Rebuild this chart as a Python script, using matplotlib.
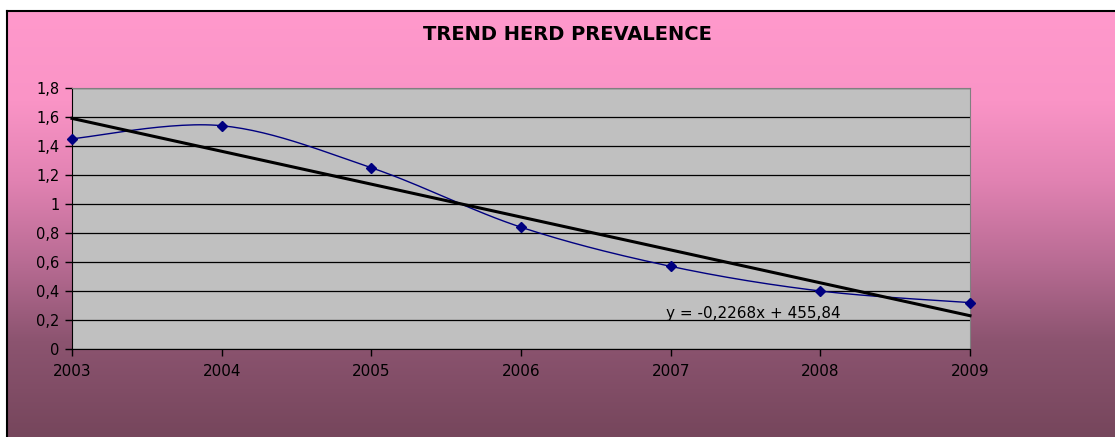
import numpy as np
import matplotlib
matplotlib.use("Agg")
import matplotlib.pyplot as plt

plt.rcParams['font.family'] = ['DejaVu Sans']

years = [2003, 2004, 2005, 2006, 2007, 2008, 2009]
prevalence = [1.45, 1.54, 1.25, 0.84, 0.57, 0.40, 0.32]
TITLE = "TREND HERD PREVALENCE"
EQUATION = "y = -0,2268x + 455,84"
Y_TICKS = [0, 0.2, 0.4, 0.6, 0.8, 1, 1.2, 1.4, 1.6, 1.8]
Y_LABELS = ["0", "0,2", "0,4", "0,6", "0,8", "1", "1,2", "1,4", "1,6", "1,8"]

W, H = 1115, 437


def smooth(x, y, n=30):
    # excel-like smoothed line: bezier with catmull-rom control points
    x = np.asarray(x, float)
    y = np.asarray(y, float)
    px = np.concatenate([[x[0]], x, [x[-1]]])
    py = np.concatenate([[y[0]], y, [y[-1]]])
    ox, oy = [], []
    t = np.linspace(0, 1, n)
    for i in range(1, len(px) - 2):
        p0 = np.array([px[i], py[i]])
        p3 = np.array([px[i + 1], py[i + 1]])
        p1 = p0 + (np.array([px[i + 1], py[i + 1]]) - np.array([px[i - 1], py[i - 1]])) / 6
        p2 = p3 - (np.array([px[i + 2], py[i + 2]]) - np.array([px[i], py[i]])) / 6
        b = ((1 - t) ** 3)[:, None] * p0 + (3 * (1 - t) ** 2 * t)[:, None] * p1 \
            + (3 * (1 - t) * t ** 2)[:, None] * p2 + (t ** 3)[:, None] * p3
        ox.extend(b[:, 0])
        oy.extend(b[:, 1])
    return np.array(ox), np.array(oy)


fig = plt.figure(figsize=(W / 100, H / 100), dpi=100)
fig.patch.set_facecolor("white")

# gradient background of the chart area
bg = fig.add_axes([7 / W, 0, 1.01 - 7 / W, 1 - 11 / H])
stops_y = np.array([0, 90, 170, 250, 330, 426])
stops_c = np.array([[255, 153, 204], [250, 148, 198], [225, 130, 178],
                    [185, 108, 148], [140, 84, 112], [118, 70, 92]]) / 255
yy = np.arange(427)
grad = np.stack([np.interp(yy, stops_y, stops_c[:, k]) for k in range(3)], axis=1)
bg.imshow(grad[:, None, :], aspect="auto", extent=[0, 1, 0, 1], origin="upper")
bg.set_xlim(0, 1)
bg.set_ylim(0, 1)
bg.set_xticks([])
bg.set_yticks([])
for s in ["right", "bottom"]:
    bg.spines[s].set_visible(False)
bg.spines["top"].set_linewidth(1.5)
bg.spines["left"].set_linewidth(1.5)

ax = fig.add_axes([72 / W, 1 - 349 / H, (970 - 72) / W, (349 - 88) / H])
ax.set_facecolor("#C0C0C0")
ax.set_xlim(2003, 2009)
ax.set_ylim(0, 1.8)
ax.set_yticks(Y_TICKS)
ax.set_yticklabels(Y_LABELS, fontsize=10.5)
ax.set_xticks(years)
ax.set_xticklabels([str(v) for v in years], fontsize=11)
ax.tick_params(axis="both", direction="out", length=5, width=1, colors="black", pad=4)
ax.tick_params(axis="x", pad=6)
ax.grid(axis="y", color="black", linewidth=0.9)
ax.set_axisbelow(True)
for s in ["top", "right"]:
    ax.spines[s].set_color("#808080")
for s in ["left", "bottom"]:
    ax.spines[s].set_color("black")

sx, sy = smooth(years, prevalence)
ax.plot(sx, sy, color="#000080", linewidth=1, zorder=3, clip_on=False)
ax.plot(years, prevalence, linestyle="none", marker="D", markersize=5,
        color="#000080", zorder=4, clip_on=False)

# linear trend
coef = np.polyfit(years, prevalence, 1)
tx = np.array([years[0], years[-1]])
ax.plot(tx, np.polyval(coef, tx), color="black", linewidth=2.2, zorder=3, clip_on=False)

ax.text(2006.97, 0.248, EQUATION, fontsize=11, ha="left", va="center")

fig.text(567 / W, 1 - 35 / H, TITLE, fontsize=14, fontweight="bold",
         ha="center", va="center")

plt.savefig("out.png", dpi=100)
